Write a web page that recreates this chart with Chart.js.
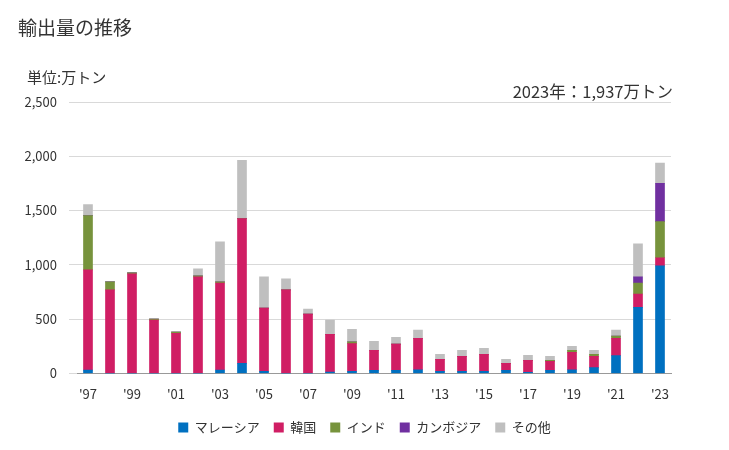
<!DOCTYPE html>
<html>
<head>
<meta charset="utf-8">
<script src="https://cdn.jsdelivr.net/npm/chart.js@4/dist/chart.umd.min.js"></script>
<style>
  body { margin: 0; background: #fff; font-family: "Noto Sans CJK JP", sans-serif; }
  #wrap { position: relative; width: 729px; height: 450px; }
  .txt { position: absolute; color: #333; white-space: nowrap; }
</style>
</head>
<body>
<div id="wrap">
  <canvas id="chart" width="729" height="450"></canvas>
  <div class="txt" style="left:18px; top:13px; font-size:19px;">輸出量の推移</div>
  <div class="txt" style="left:27px; top:66px; font-size:15px;">単位:万トン</div>
  <div class="txt" style="right:56px; top:79px; font-size:16.5px;">2023年：1,937万トン</div>
</div>
<script>
// years and series (万トン)
const years = ['97','98','99','00','01','02','03','04','05','06','07','08','09','10',
  '11','12','13','14','15','16','17','18','19','20','21','22','23'];
const malaysia = [30, 0, 0, 0, 0, 0, 31, 93, 19, 0, 0, 12, 19, 28, 28, 34, 19, 19, 19, 28, 9, 28, 34, 53, 164, 608, 991];
const korea    = [924, 769, 917, 491, 370, 889, 802, 1333, 583, 769, 546, 349, 256, 185, 241, 290, 111, 138, 157, 65, 111, 83, 160, 104, 160, 123, 74];
const india    = [500, 74, 9, 9, 10, 9, 10, 0, 0, 0, 0, 0, 15, 0, 0, 0, 0, 0, 0, 0, 0, 9, 19, 19, 19, 102, 333];
const cambodia = [0, 0, 0, 0, 0, 0, 0, 0, 0, 0, 0, 0, 0, 0, 0, 0, 0, 0, 0, 0, 0, 0, 0, 0, 0, 56, 352];
const others   = [102, 6, 6, 6, 6, 65, 370, 537, 287, 101, 47, 130, 117, 83, 64, 74, 46, 56, 55, 37, 47, 37, 37, 37, 55, 305, 187];

const font = { family: '"Noto Sans CJK JP", sans-serif' };

const ctx = document.getElementById('chart').getContext('2d');
new Chart(ctx, {
  type: 'bar',
  data: {
    labels: years,
    datasets: [
      { label: 'マレーシア', data: malaysia, backgroundColor: '#0070c0' },
      { label: '韓国', data: korea, backgroundColor: '#d01e64' },
      { label: 'インド', data: india, backgroundColor: '#77933c' },
      { label: 'カンボジア', data: cambodia, backgroundColor: '#7030a0' },
      { label: 'その他', data: others, backgroundColor: '#bfbfbf' },
    ],
  },
  options: {
    responsive: false,
    animation: false,
    barThickness: 9,
    layout: { padding: { left: 0, right: 0, top: 102, bottom: 6 } },
    plugins: {
      legend: {
        position: 'bottom',
        labels: { boxWidth: 10, boxHeight: 10, color: '#333', font: { ...font, size: 13 }, padding: 14 },
      },
      tooltip: { enabled: false },
    },
    scales: {
      x: {
        stacked: true,
        grid: { display: false },
        border: { color: '#999' },
        ticks: {
          autoSkip: false,
          maxRotation: 0,
          padding: 5,
          color: '#333',
          font: { ...font, size: 13 },
          callback: (v, i) => (i % 2 === 0 ? "'" + years[i] : ''),
        },
      },
      y: {
        stacked: true,
        min: 0,
        max: 2500,
        grid: { color: '#d9d9d9' },
        border: { display: false },
        ticks: { stepSize: 500, padding: 12, color: '#333', font: { ...font, size: 13 } },
        afterFit: (scale) => { scale.width = 77; },
      },
      // empty right axis, keeps the plot clear of the right edge
      y2: {
        position: 'right',
        min: 0,
        max: 1,
        grid: { display: false },
        border: { display: false },
        ticks: { display: false },
        afterFit: (scale) => { scale.width = 58; },
      },
    },
  },
});
</script>
</body>
</html>
